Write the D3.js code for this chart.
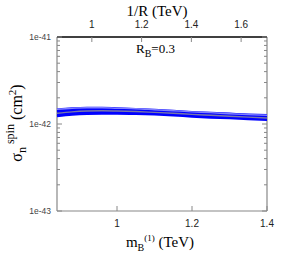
<!DOCTYPE html>
<html>
<head>
<meta charset="utf-8">
<script src="https://cdn.jsdelivr.net/npm/d3@7"></script>
<style>
  body { margin: 0; background: #fff; }
</style>
</head>
<body>
<svg id="chart" width="284" height="262"></svg>
<script>
// m_B^(1) in TeV
var mB = [0.84, 0.88, 0.92, 0.96, 1.0, 1.05, 1.1, 1.15, 1.2, 1.25, 1.3, 1.35, 1.4];
// sigma_n^spin in units of 1e-42 cm^2
var sigmaUpper = [1.46, 1.51, 1.53, 1.53, 1.51, 1.48, 1.45, 1.41, 1.37, 1.34, 1.31, 1.28, 1.26];
var sigmaUpMid = [1.41, 1.46, 1.49, 1.49, 1.47, 1.45, 1.42, 1.38, 1.34, 1.31, 1.28, 1.25, 1.22];
var sigmaMid   = [1.35, 1.40, 1.43, 1.44, 1.43, 1.41, 1.38, 1.34, 1.30, 1.27, 1.24, 1.21, 1.18];
var sigmaLoMid = [1.29, 1.34, 1.37, 1.38, 1.38, 1.36, 1.34, 1.30, 1.26, 1.23, 1.20, 1.17, 1.15];
var sigmaLower = [1.23, 1.28, 1.31, 1.32, 1.32, 1.31, 1.29, 1.26, 1.22, 1.19, 1.17, 1.14, 1.12];
var sigmaLight = [1.48, 1.52, 1.54, 1.54, 1.52, 1.50, 1.46, 1.42, 1.38, 1.35, 1.31, 1.28, 1.26];
var sigmaGray  = [1.33, 1.38, 1.41, 1.42, 1.41, 1.39, 1.36, 1.33, 1.29, 1.26, 1.23, 1.20, 1.17];
var bottomTicks = [1, 1.2, 1.4];
var topTicks = [1, 1.2, 1.4, 1.6];
var yTicks = [1e-41, 1e-42, 1e-43];

var margin = {top: 37, right: 17, bottom: 51, left: 57};
var svg = d3.select("#chart");
var width = 284 - margin.left - margin.right,
    height = 262 - margin.top - margin.bottom;
var g = svg.append("g").attr("transform", "translate(" + margin.left + "," + margin.top + ")");

var x = d3.scaleLinear().domain([0.84, 1.4]).range([0, width]);
var xTop = d3.scaleLinear().domain([0.86, 1.704]).range([0, width]);
var y = d3.scaleLog().domain([1e-43, 1e-41]).range([height, 0]);

// minor log ticks
var minor = [];
[1e-43, 1e-42].forEach(function(d) {
  for (var k = 2; k <= 9; k++) minor.push(d * k);
});

// frame
g.append("line").attr("x1", 0).attr("x2", 0).attr("y1", 0).attr("y2", height).attr("stroke", "#888").attr("stroke-width", 1.2);
g.append("line").attr("x1", width).attr("x2", width).attr("y1", 0).attr("y2", height).attr("stroke", "#888").attr("stroke-width", 1.2);
g.append("line").attr("x1", 0).attr("x2", width).attr("y1", height).attr("y2", height).attr("stroke", "#888").attr("stroke-width", 1.2);
g.append("line").attr("x1", 0).attr("x2", width).attr("y1", 0).attr("y2", 0).attr("stroke", "#000").attr("stroke-width", 1.5);

// y ticks on both sides, inward
[0, width].forEach(function(px) {
  var dir = px === 0 ? 1 : -1;
  g.selectAll(null).data(yTicks).enter().append("line")
    .attr("x1", px).attr("x2", px + dir * 5)
    .attr("y1", function(d) { return y(d); }).attr("y2", function(d) { return y(d); })
    .attr("stroke", "#888");
  g.selectAll(null).data(minor).enter().append("line")
    .attr("x1", px).attr("x2", px + dir * 3)
    .attr("y1", function(d) { return y(d); }).attr("y2", function(d) { return y(d); })
    .attr("stroke", "#888");
});

// y tick labels
g.selectAll(null).data(yTicks).enter().append("text")
  .attr("x", -6).attr("y", function(d) { return y(d) + 3; })
  .attr("text-anchor", "end")
  .style("font-family", "Liberation Sans, sans-serif").style("font-size", "8.5px").attr("fill", "#444")
  .text(function(d) { return "1e" + Math.round(Math.log10(d)); });

// bottom ticks
g.selectAll(null).data(bottomTicks).enter().append("line")
  .attr("x1", function(d) { return x(d); }).attr("x2", function(d) { return x(d); })
  .attr("y1", height).attr("y2", height - 5).attr("stroke", "#888");
g.selectAll(null).data(bottomTicks).enter().append("text")
  .attr("x", function(d) { return x(d); }).attr("y", height + 16)
  .attr("text-anchor", "middle")
  .style("font-family", "Liberation Sans, sans-serif").style("font-size", "10px").attr("fill", "#222")
  .text(function(d) { return d; });

// top ticks
g.selectAll(null).data(topTicks).enter().append("line")
  .attr("x1", function(d) { return xTop(d); }).attr("x2", function(d) { return xTop(d); })
  .attr("y1", 0).attr("y2", 5).attr("stroke", "#888");
g.selectAll(null).data(topTicks).enter().append("text")
  .attr("x", function(d) { return xTop(d); }).attr("y", -9)
  .attr("text-anchor", "middle")
  .style("font-family", "Liberation Sans, sans-serif").style("font-size", "10px").attr("fill", "#222")
  .text(function(d) { return d; });

// curves
var line = d3.line()
  .x(function(d) { return x(d[0]); })
  .y(function(d) { return y(d[1] * 1e-42); })
  .curve(d3.curveMonotoneX);
function pairs(arr) { return mB.map(function(m, i) { return [m, arr[i]]; }); }

[
  {v: sigmaUpper, c: "#0000ff", w: 2.4},
  {v: sigmaLower, c: "#0000ff", w: 2.4},
  {v: sigmaUpMid, c: "#0000ff", w: 2.4},
  {v: sigmaLoMid, c: "#0000ff", w: 2.4},
  {v: sigmaMid, c: "#0000ff", w: 2.4},
  {v: sigmaLight, c: "#8080ff", w: 1.4},
  {v: sigmaGray, c: "#7878a8", w: 1.4}
].forEach(function(s) {
  g.append("path").datum(pairs(s.v))
    .attr("d", line).attr("fill", "none")
    .attr("stroke", s.c).attr("stroke-width", s.w);
});

// annotation R_B = 0.3
var ann = g.append("text").attr("x", 79).attr("y", 16)
  .style("font-family", "Liberation Serif, serif").style("font-size", "13px").attr("fill", "#000");
ann.append("tspan").text("R");
ann.append("tspan").attr("dy", 4).style("font-size", "10px").text("B");
ann.append("tspan").attr("dy", -4).text("=0.3");

// axis titles
svg.append("text").attr("x", 157).attr("y", 16).attr("text-anchor", "middle")
  .style("font-family", "Liberation Serif, serif").style("font-size", "15px").text("1/R (TeV)");

var xl = svg.append("text").attr("x", 160).attr("y", 247).attr("text-anchor", "middle")
  .style("font-family", "Liberation Serif, serif").style("font-size", "15px");
xl.append("tspan").text("m");
xl.append("tspan").attr("dy", 4).style("font-size", "10px").text("B");
xl.append("tspan").attr("dy", -10).style("font-size", "9px").text("(1)");
xl.append("tspan").attr("dy", 6).text(" (TeV)");

var yl = svg.append("text").attr("transform", "translate(22,123) rotate(-90)").attr("text-anchor", "middle")
  .style("font-family", "Liberation Serif, serif").style("font-size", "16px");
yl.append("tspan").text("σ");
yl.append("tspan").attr("dy", 4).style("font-size", "12px").text("n");
yl.append("tspan").attr("dy", -12).style("font-size", "12px").text(" spin");
yl.append("tspan").attr("dy", 8).text(" (cm");
yl.append("tspan").attr("dy", -6).style("font-size", "11px").text("2");
yl.append("tspan").attr("dy", 6).text(")");
</script>
</body>
</html>
